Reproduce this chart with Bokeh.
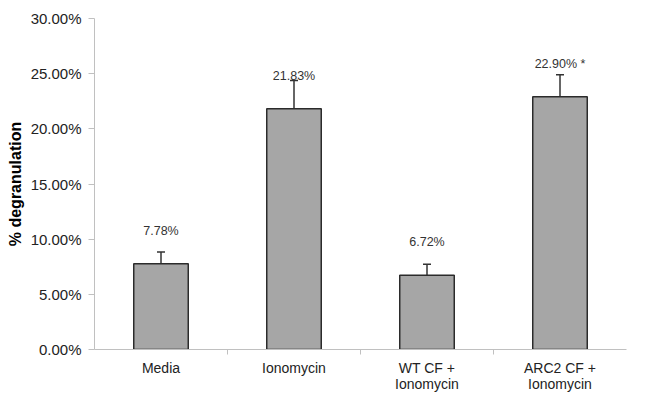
from bokeh.plotting import figure
from bokeh.models import ColumnDataSource, FixedTicker, NumeralTickFormatter, Range1d, Whisker
from bokeh.core.properties import value
from bokeh.embed import file_html
from bokeh.resources import INLINE

categories = ["Media", "Ionomycin", "WT CF +\nIonomycin", "ARC2 CF +\nIonomycin"]
values = [0.0778, 0.2183, 0.0672, 0.2290]
errors = [0.0106, 0.0254, 0.0100, 0.0200]
labels = ["7.78%", "21.83%", "6.72%", "22.90% *"]
y_ticks = [0.0, 0.05, 0.10, 0.15, 0.20, 0.25, 0.30]

xs = [i + 0.5 for i in range(len(categories))]
src = ColumnDataSource(dict(
    x=xs, top=values,
    upper=[v + e for v, e in zip(values, errors)],
    base=values,
    lab=labels,
    laby=[v + 0.03 for v in values],
))

p = figure(width=631, height=394, output_backend="svg", toolbar_location=None,
           x_range=Range1d(0, len(categories)), y_range=Range1d(0, 0.30))
p.min_border_left = 94
p.min_border_right = 5
p.min_border_top = 18
p.min_border_bottom = 0
p.outline_line_color = None
p.xgrid.visible = False
p.ygrid.visible = False

p.vbar(x="x", top="top", bottom=0, width=0.41, source=src,
       fill_color="#a6a6a6", line_color="#2b2b2b", line_width=1.5)

w = Whisker(source=src, base="x", upper="upper", lower="base", dimension="height",
            line_color="#333333", line_width=1.5)
w.upper_head.size = 8
w.upper_head.line_color = "#333333"
w.upper_head.line_width = 1.5
w.lower_head = None
p.add_layout(w)

p.text(x="x", y="laby", text="lab", source=src, text_align="center",
       text_baseline="middle", text_font_size="12.5px", text_color="#333333",
       text_font=value("Liberation Sans"))

# axes
p.yaxis.ticker = FixedTicker(ticks=y_ticks)
p.yaxis.formatter = NumeralTickFormatter(format="0.00%")
p.yaxis.axis_label = "% degranulation"
p.yaxis.axis_label_text_font = "Liberation Sans"
p.yaxis.axis_label_text_font_style = "bold"
p.yaxis.axis_label_text_font_size = "16px"
p.yaxis.axis_label_text_color = "#000000"
p.yaxis.axis_label_standoff = 4
p.yaxis.major_label_text_font = "Liberation Sans"
p.yaxis.major_label_text_font_size = "15px"
p.yaxis.major_label_text_color = "#222222"
p.yaxis.major_label_standoff = 7
p.yaxis.major_tick_in = 0
p.yaxis.major_tick_out = 6
p.yaxis.minor_tick_line_color = None
p.yaxis.axis_line_color = "#c0c0c0"
p.yaxis.major_tick_line_color = "#c0c0c0"

p.xaxis.ticker = FixedTicker(ticks=xs, minor_ticks=list(range(1, len(categories))))
p.xaxis.major_label_overrides = {x: c for x, c in zip(xs, categories)}
p.xaxis.major_label_text_font = "Liberation Sans"
p.xaxis.major_label_text_font_size = "14px"
p.xaxis.major_label_text_color = "#222222"
p.xaxis.major_label_text_line_height = 1.0
p.xaxis.major_tick_line_color = None
p.xaxis.major_tick_in = 0
p.xaxis.major_tick_out = 0
p.xaxis.minor_tick_in = 0
p.xaxis.minor_tick_out = 5
p.xaxis.minor_tick_line_color = "#c0c0c0"
p.xaxis.axis_line_color = "#c0c0c0"
p.xaxis.major_label_standoff = 5

open("out.html", "w").write(file_html(p, INLINE))
